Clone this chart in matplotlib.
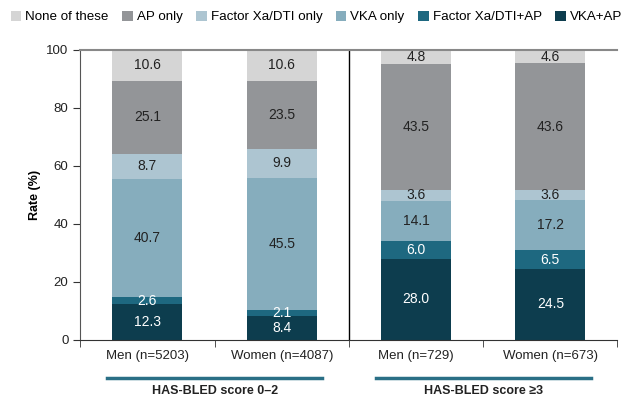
import numpy as np
import matplotlib.pyplot as plt

plt.rcParams['font.family'] = ['Liberation Sans', 'DejaVu Sans']

categories = ["Men (n=5203)", "Women (n=4087)", "Men (n=729)", "Women (n=673)"]
groups = ["HAS-BLED score 0\u20132", "HAS-BLED score \u22653"]

# stacked bottom to top
series = ["VKA+AP", "Factor Xa/DTI+AP", "VKA only", "Factor Xa/DTI only", "AP only", "None of these"]
vka_ap = [12.3, 8.4, 28.0, 24.5]
xa_ap = [2.6, 2.1, 6.0, 6.5]
vka_only = [40.7, 45.5, 14.1, 17.2]
xa_only = [8.7, 9.9, 3.6, 3.6]
ap_only = [25.1, 23.5, 43.5, 43.6]
none = [10.6, 10.6, 4.8, 4.6]

values = [vka_ap, xa_ap, vka_only, xa_only, ap_only, none]
colors = ["#0d3d4e", "#1e6880", "#86adbd", "#adc5d1", "#939598", "#d5d5d5"]
text_colors = ["white", "white", "#222222", "#222222", "#222222", "#222222"]

fig = plt.figure(figsize=(6.32, 4.0), dpi=100)
ax = fig.add_axes([0.127, 0.15, 0.85, 0.725])

x = np.arange(len(categories))
bottom = np.zeros(len(categories))
handles = []
for vals, col, tc, name in zip(values, colors, text_colors, series):
    b = ax.bar(x, vals, 0.52, bottom=bottom, color=col, label=name)
    handles.append(b)
    for xi, v, bt in zip(x, vals, bottom):
        ax.text(xi, bt + v / 2, f"{v:.1f}", ha="center", va="center",
                fontsize=10, color=tc)
    bottom += np.array(vals)

ax.set_xlim(-0.5, 3.5)
ax.set_ylim(0, 100)
ax.set_yticks([0, 20, 40, 60, 80, 100])
ax.set_ylabel("Rate (%)", fontsize=9, fontweight="bold")
ax.set_xticks(x)
ax.set_xticklabels(categories, fontsize=9.5, color="#222222")
ax.set_xticks([-0.5, 0.5, 1.5, 2.5, 3.5], minor=True)
ax.tick_params(axis="x", which="major", length=0, pad=7)
ax.tick_params(axis="x", which="minor", length=5, direction="out", color="#333333")
ax.tick_params(axis="y", labelsize=9.5, length=5, color="#333333", labelcolor="#222222")

ax.spines["right"].set_visible(False)
ax.spines["top"].set_color("#888888")
ax.spines["top"].set_linewidth(1.5)
ax.spines["left"].set_color("#555555")
ax.spines["bottom"].set_color("#333333")

ax.axvline(1.5, color="black", lw=1)

# group labels under axis
for i, g in enumerate(groups):
    c = 0.5 + 2 * i
    ax.plot([c - 0.8, c + 0.8], [-13, -13], color="#2a6f86", lw=2.5,
            clip_on=False)
    ax.text(c, -17.5, g, ha="center", va="center", fontsize=9,
            fontweight="bold", color="#222222")

leg_order = handles[::-1]
fig.legend(leg_order, series[::-1], loc="upper left", bbox_to_anchor=(0.0, 1.0),
           ncol=6, frameon=False, fontsize=9.6, handlelength=0.8,
           handleheight=0.8, handletextpad=0.3, columnspacing=1.0,
           borderaxespad=0.4)

fig.savefig("out.png", dpi=100)
